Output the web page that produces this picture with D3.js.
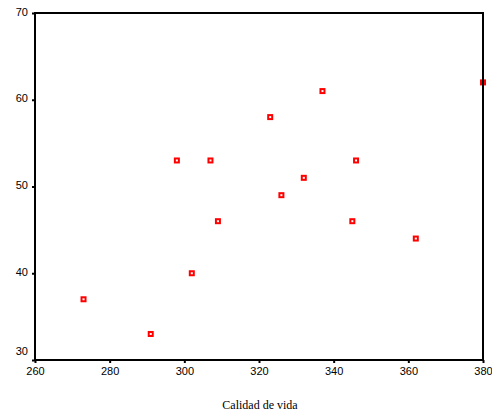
<!DOCTYPE html>
<html><head><meta charset="utf-8">
<script src="https://cdn.jsdelivr.net/npm/d3@7"></script>
<style>body{margin:0;background:#fff}svg{display:block}</style>
</head><body>
<script>
const calidadDeVida = [273, 291, 298, 302, 307, 309, 323, 326, 332, 337, 345, 346, 362, 380];
const yValues       = [37, 33, 53, 40, 53, 46, 58, 49, 51, 61, 46, 53, 44, 62];
const xTicks = [260, 280, 300, 320, 340, 360, 380];
const yTicks = [30, 40, 50, 60, 70];
const xTitle = "Calidad de vida";

const W = 492, H = 414;
const m = {left: 35, right: 9, top: 13, bottom: 54};
const svg = d3.select("body").append("svg").attr("width", W).attr("height", H);

const x = d3.scaleLinear().domain([260, 380]).range([m.left, W - m.right]);
const y = d3.scaleLinear().domain([30, 70]).range([H - m.bottom, m.top]);

// points
svg.append("g").selectAll("rect").data(calidadDeVida).join("rect")
  .attr("x", (d) => x(d) - 2)
  .attr("y", (d, i) => y(yValues[i]) - 2)
  .attr("width", 4).attr("height", 4)
  .attr("fill", "#fff").attr("stroke", "#ff0000").attr("stroke-width", 2);

// frame
svg.append("rect")
  .attr("x", x(260)).attr("y", y(70))
  .attr("width", x(380) - x(260)).attr("height", y(30) - y(70))
  .attr("fill", "none").attr("stroke", "#000").attr("stroke-width", 2);

// axes
const xa = svg.append("g").attr("transform", `translate(0,${y(30)})`)
  .call(d3.axisBottom(x).tickValues(xTicks).tickFormat(d3.format("d")).tickSize(3).tickPadding(4));
const ya = svg.append("g").attr("transform", `translate(${x(260)},0)`)
  .call(d3.axisLeft(y).tickValues(yTicks).tickFormat(d3.format("d")).tickSize(3).tickPadding(4));
[xa, ya].forEach(g => {
  g.select(".domain").remove();
  g.selectAll("line").attr("stroke", "#000").attr("stroke-width", 2);
  g.selectAll("text").attr("font-family", "Arial, 'Liberation Sans', sans-serif")
    .attr("font-size", 11).attr("fill", "#000");
});
ya.selectAll("text").attr("dy", "0.2em");
// lowest y label sits above the x axis line
ya.selectAll(".tick").filter(d => d === 30).select("text").attr("dy", "-0.5em");

svg.append("text").attr("x", (x(260) + x(380)) / 2 + 1).attr("y", 409)
  .attr("text-anchor", "middle")
  .attr("font-family", "'Times New Roman', 'Liberation Serif', serif")
  .attr("font-size", 12).text(xTitle);
</script>
</body></html>
